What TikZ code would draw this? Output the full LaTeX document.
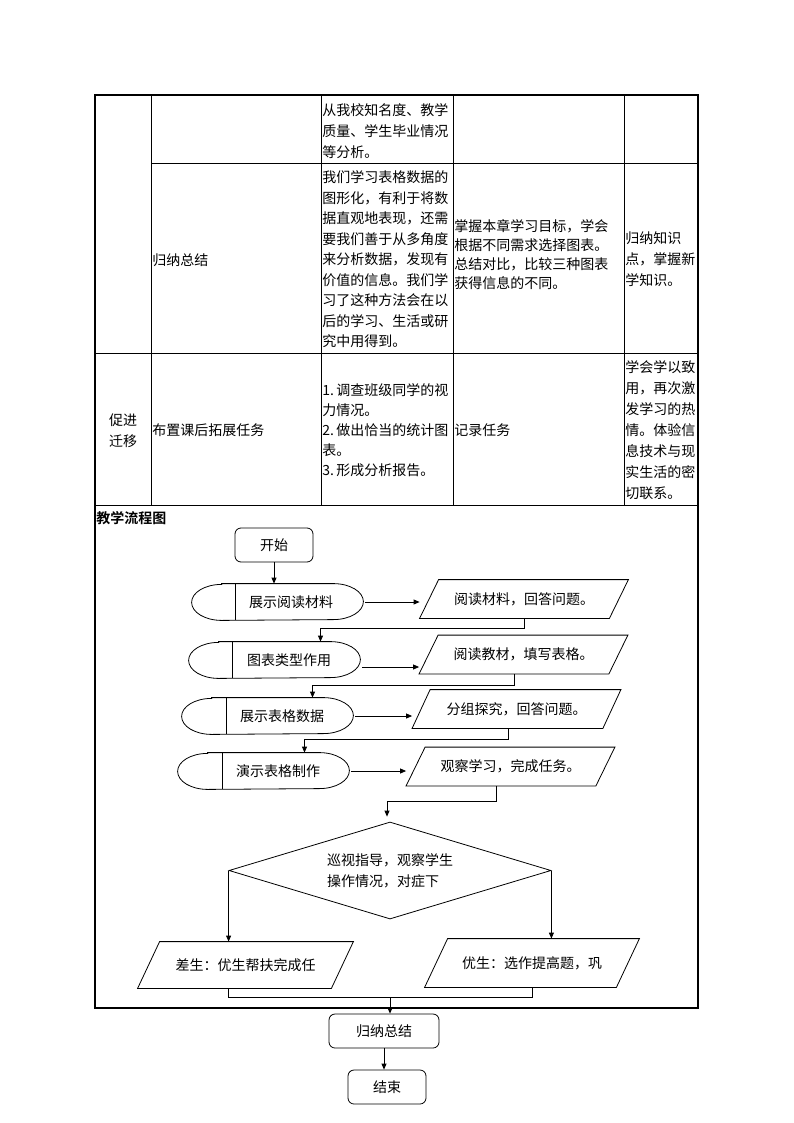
\documentclass[tikz,border=0pt]{standalone}
\usepackage{fontspec}
\setmainfont{Noto Sans CJK SC}[BoldFont={Noto Sans CJK SC Bold}]
\usetikzlibrary{shapes.geometric, arrows.meta, positioning}

\newcommand\tsize{\fontsize{14}{21}\selectfont}

% outline of a task box: rounded ends and a bar near the left end
\newcommand\taskoutline[2]{%
  \draw ([xshift=30pt]#1.north west) -- ([xshift=-30pt]#1.north east)
    arc[start angle=90, end angle=-90, x radius=30pt, y radius=18pt]
    -- ([xshift=30pt]#1.south west)
    arc[start angle=270, end angle=90, x radius=30pt, y radius=18pt] -- cycle;
  \draw ([xshift=#2]#1.north west) -- ([xshift=#2]#1.south west);}

% outline of an input/output box, slanted to the right
\newcommand\iooutline[2]{%
  \draw ([xshift=#2]#1.north west) -- (#1.north east)
    -- ([xshift=-#2]#1.south east) -- (#1.south west) -- cycle;}

\tikzset{
  frame/.style={line width=1.6pt},
  rule/.style={line width=0.8pt},
  cell/.style={inner sep=0pt, anchor=west, align=left, font=\tsize},
  term/.style={draw, rounded corners=6pt, inner sep=0pt, font=\tsize},
  task/.style={inner sep=0pt, minimum width=171pt, minimum height=36pt},
  io/.style={inner sep=0pt, minimum width=208pt, minimum height=38pt, font=\tsize},
  check/.style={draw, diamond, aspect=3.3, inner sep=0pt, minimum width=322pt,
    minimum height=97pt, font=\tsize, align=left},
}

\begin{document}
\begin{tikzpicture}[x=1pt, y=1pt, line width=0.8pt, >={Triangle[length=6pt, width=5pt]}]
\useasboundingbox (0,0) rectangle (794,-1123);

% table
\draw[frame] (95,-95) rectangle (698,-1008);
\draw[rule] (151,-95) -- (151,-505)
            (321,-95) -- (321,-505)
            (453,-95) -- (453,-505)
            (624,-95) -- (624,-505);
\draw[rule] (151,-163) -- (698,-163)
            (95,-353) -- (698,-353)
            (95,-505) -- (698,-505);

\node[cell] (r1c3) at (322,-131) {从我校知名度、教学\\质量、学生毕业情况\\等分析。};
\node[cell] (r2c2) at (152,-260) {归纳总结};
\node[cell, font=\fontsize{14}{20.5}\selectfont] (r2c3) at (322,-259.5) {我们学习表格数据的\\图形化，有利于将数\\据直观地表现，还需\\要我们善于从多角度\\来分析数据，发现有\\价值的信息。我们学\\习了这种方法会在以\\后的学习、生活或研\\究中用得到。};
\node[cell, font=\fontsize{14}{19}\selectfont] (r2c4) at (454,-255) {掌握本章学习目标，学会\\根据不同需求选择图表。\\总结对比，比较三种图表\\获得信息的不同。};
\node[cell] (r2c5) at (625,-259) {归纳知识\\点，掌握新\\学知识。};
\node[cell, anchor=center, align=center] (r3c1) at (123,-431) {促进\\迁移};
\node[cell] (r3c2) at (152,-430) {布置课后拓展任务};
\node[cell, font=\fontsize{14}{20}\selectfont] (r3c3) at (322,-430) {1.\,调查班级同学的视\\力情况。\\2.\,做出恰当的统计图\\表。\\3.\,形成分析报告。};
\node[cell] (r3c4) at (454,-430) {记录任务};
\node[cell] (r3c5) at (625,-430) {学会学以致\\用，再次激\\发学习的热\\情。体验信\\息技术与现\\实生活的密\\切联系。};
\node[cell, font=\tsize\bfseries] (title) at (96,-518) {教学流程图};

% flow chart
\node[term, minimum width=78pt, minimum height=34pt] (start) at (274,-545) {开始};

\node[task] (s1) at (277.5,-602) {};
\node[task] (s2) at (274.5,-660) {};
\node[task] (s3) at (267.5,-716) {};
\node[task] (s4) at (263.5,-771) {};
\taskoutline{s1}{44pt}
\taskoutline{s2}{44pt}
\taskoutline{s3}{45pt}
\taskoutline{s4}{45pt}
\node[font=\tsize] (s1t) at (291,-602) {展示阅读材料};
\node[font=\tsize] (s2t) at (289,-660) {图表类型作用};
\node[font=\tsize] (s3t) at (282,-716) {展示表格数据};
\node[font=\tsize] (s4t) at (278,-771) {演示表格制作};

\node[io] (p1) at (524,-599) {阅读材料，回答问题。};
\node[io] (p2) at (523.5,-654.5) {阅读教材，填写表格。};
\node[io] (p3) at (516.5,-709) {分组探究，回答问题。};
\node[io] (p4) at (510.5,-766.5) {观察学习，完成任务。};
\iooutline{p1}{19pt}
\iooutline{p2}{19pt}
\iooutline{p3}{18pt}
\iooutline{p4}{19pt}

\node[check] (d) at (390,-870.5) {巡视指导，观察学生\\操作情况，对症下};

\node[io, minimum width=215pt, minimum height=46pt] (lp) at (245.5,-965) {差生：优生帮扶完成任};
\node[io, minimum width=214pt, minimum height=48pt] (rp) at (532,-963) {优生：选作提高题，巩};
\iooutline{lp}{22pt}
\iooutline{rp}{23pt}

\node[term, minimum width=110pt, minimum height=34pt] (sum) at (384,-1031) {归纳总结};
\node[term, minimum width=78pt, minimum height=34pt] (stop) at (387,-1087) {结束};

\coordinate (m) at (390,-997);

\draw[->] (start.south) -- (start.south |- s1.north);
\draw[->, shorten <=2pt] (s1.east) -- (s1.east -| p1.west);
\draw[->, shorten <=2pt] ([yshift=-7pt]s2.east) -- ([yshift=-7pt]s2.east -| p2.west);
\draw[->, shorten <=2pt] (s3.east) -- (s3.east -| p3.west);
\draw[->, shorten <=2pt] (s4.east) -- (s4.east -| p4.west);

\draw[->] (p1.south) -- ++(0,-10) -| ([xshift=46pt]s2.north);
\draw[->] ([xshift=-9pt]p2.south) -- ++(0,-11) -| ([xshift=45pt]s3.north);
\draw[->] ([xshift=-8pt]p3.south) -- ++(0,-11) -| ([xshift=41pt]s4.north);
\draw[->] ([xshift=-14pt]p4.south) -- ++(0,-15) -| ([xshift=-3pt, yshift=5pt]d.north);

\draw[->] (d.west) -- (d.west |- lp.north);
\draw[->] (d.east) -- (d.east |- rp.north);

\draw ([xshift=-17pt]lp.south) |- (m) -| (rp.south);
\draw[->] (m) -- (m |- sum.north);
\draw[->] (sum.south) -- (sum.south |- stop.north);
\end{tikzpicture}
\end{document}
